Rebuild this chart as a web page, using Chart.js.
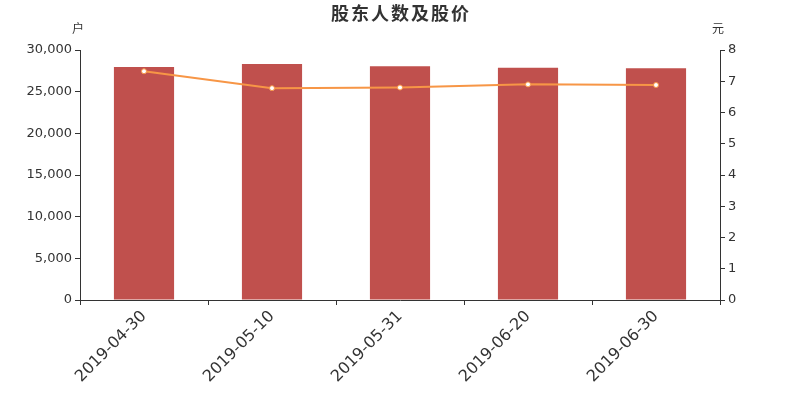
<!DOCTYPE html>
<html lang="zh">

<head>
    <meta charset="UTF-8">
    <title>股东人数及股价</title>
    <script src="https://cdn.jsdelivr.net/npm/chart.js"></script>
    <style>
        body {
            margin: 0;
            background: #ffffff;
        }
    </style>
</head>

<body>
    <canvas id="grafico" width="800" height="400"></canvas>

    <script>
        // dados
        const datas = ["2019-04-30", "2019-05-10", "2019-05-31", "2019-06-20", "2019-06-30"];
        const acionistas = [27960, 28320, 28060, 27880, 27800];
        const precos = [7.32, 6.78, 6.80, 6.90, 6.88];

        const titulo = "股东人数及股价";
        const unidadeEsq = "户";
        const unidadeDir = "元";
        const corTexto = "#333333";
        const fonte = "'DejaVu Sans', 'Noto Sans CJK SC', sans-serif";

        // desenha titulo e unidades dos eixos
        const textosExtras = {
            id: "textosExtras",
            afterDraw(chart) {
                const c = chart.ctx;
                const area = chart.chartArea;
                c.save();
                c.fillStyle = corTexto;
                c.textAlign = "center";
                c.textBaseline = "middle";
                c.font = "bold 18px 'Noto Sans CJK SC', sans-serif";
                c.letterSpacing = "2px";
                c.fillText(titulo, 401, 13);
                c.letterSpacing = "0px";
                c.font = "12px 'Noto Sans CJK SC', sans-serif";
                c.fillText(unidadeEsq, area.left - 2, 28);
                c.fillText(unidadeDir, area.right - 2, 28);
                c.restore();
            }
        };

        const ctx = document.getElementById("grafico").getContext("2d");
        const chart = new Chart(ctx, {
            type: "bar",
            data: {
                labels: datas,
                datasets: [
                    {
                        type: "line",
                        label: "股价",
                        data: precos,
                        yAxisID: "y1",
                        borderColor: "#f79646",
                        borderWidth: 2,
                        pointRadius: 2.5,
                        pointBackgroundColor: "#ffffff",
                        pointBorderColor: "#f79646",
                        pointBorderWidth: 1,
                        tension: 0,
                        order: 0
                    },
                    {
                        label: "股东人数",
                        data: acionistas,
                        yAxisID: "y",
                        backgroundColor: "#c0504d",
                        barPercentage: 0.47,
                        categoryPercentage: 1,
                        order: 1
                    }
                ]
            },
            options: {
                responsive: false,
                animation: false,
                locale: "en-US",
                layout: {
                    padding: { top: 50, left: 0, right: 0, bottom: 0 }
                },
                plugins: {
                    legend: { display: false },
                    title: { display: false },
                    tooltip: { enabled: false }
                },
                scales: {
                    x: {
                        offset: true,
                        grid: {
                            offset: true,
                            drawOnChartArea: false,
                            drawTicks: true,
                            tickLength: 5,
                            color: corTexto
                        },
                        border: { color: corTexto },
                        ticks: {
                            autoSkip: false,
                            color: corTexto,
                            font: { size: 16, family: fonte },
                            minRotation: 45,
                            maxRotation: 45,
                            padding: 2
                        },
                        afterFit(axis) { axis.height = 100; }
                    },
                    y: {
                        position: "left",
                        min: 0,
                        max: 30000,
                        grid: {
                            drawOnChartArea: false,
                            tickLength: 5,
                            color: corTexto
                        },
                        border: { color: corTexto },
                        ticks: {
                            stepSize: 5000,
                            color: corTexto,
                            font: { size: 13, family: fonte },
                            padding: 3
                        },
                        afterFit(axis) { axis.width = 80; }
                    },
                    y1: {
                        position: "right",
                        min: 0,
                        max: 8,
                        grid: {
                            drawOnChartArea: false,
                            tickLength: 5,
                            color: corTexto
                        },
                        border: { color: corTexto },
                        ticks: {
                            stepSize: 1,
                            color: corTexto,
                            font: { size: 13, family: fonte },
                            padding: 3
                        },
                        afterFit(axis) { axis.width = 80; }
                    }
                }
            },
            plugins: [textosExtras]
        });
    </script>
</body>

</html>
